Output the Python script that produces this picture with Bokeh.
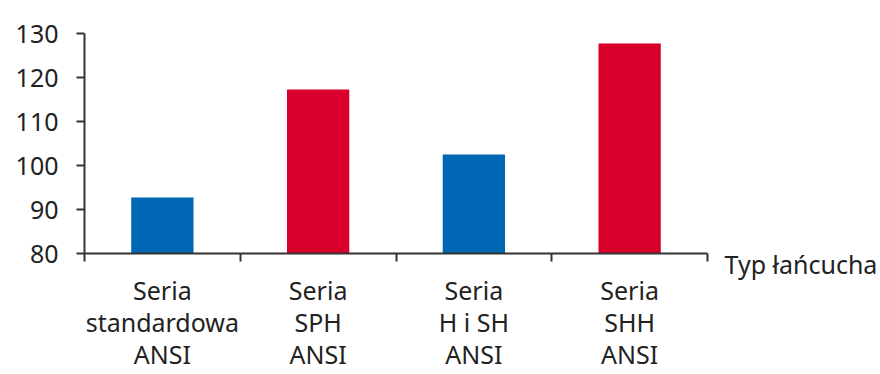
from bokeh.plotting import figure
from bokeh.models import FixedTicker, Range1d, LinearAxis
from bokeh.embed import file_html
from bokeh.resources import INLINE

categories = ["Seria\nstandardowa\nANSI", "Seria\nSPH\nANSI", "Seria\nH i SH\nANSI", "Seria\nSHH\nANSI"]
values = [92.7, 117.3, 102.5, 127.7]
colors = ["#0067B4", "#D9002B", "#0067B4", "#D9002B"]
y_ticks = [80, 90, 100, 110, 120, 130]
x_title = "Typ łańcucha"

FONT = "Noto Sans"
TXT = "#222222"
AX = "#333333"

centers = [i + 0.5 for i in range(len(categories))]

p = figure(width=880, height=374, output_backend="svg", toolbar_location=None,
           x_range=Range1d(0, len(categories)), y_range=Range1d(80, 130),
           min_border_left=84, min_border_right=173, min_border_top=33, min_border_bottom=100)
p.outline_line_color = None
p.grid.visible = False
p.background_fill_color = "white"
p.border_fill_color = "white"

p.vbar(x=centers, top=values, bottom=80, width=0.4, fill_color=colors, line_color=None)

xa = p.xaxis[0]
xa.ticker = FixedTicker(ticks=centers, minor_ticks=list(range(len(categories) + 1)))
xa.major_label_overrides = {c: lab for c, lab in zip(centers, categories)}
xa.major_tick_line_color = None
xa.major_tick_out = 0
xa.major_tick_in = 0
xa.minor_tick_line_color = AX
xa.minor_tick_out = 8
xa.minor_tick_in = 0
xa.axis_line_color = AX
xa.axis_line_width = 2
xa.minor_tick_line_width = 2
xa.major_label_text_font = FONT
xa.major_label_text_font_size = "25px"
xa.major_label_text_line_height = 0.95
xa.major_label_text_color = TXT
xa.major_label_standoff = 11

ya = p.yaxis[0]
ya.ticker = FixedTicker(ticks=y_ticks, minor_ticks=[])
ya.major_tick_out = 8
ya.major_tick_in = 0
ya.major_tick_line_color = AX
ya.major_tick_line_width = 2
ya.axis_line_color = AX
ya.axis_line_width = 2
ya.major_label_text_font = FONT
ya.major_label_text_font_size = "25px"
ya.major_label_text_color = TXT
ya.major_label_standoff = 18

# x-axis title placed at the right end of the x axis via a label-only right axis
ra = LinearAxis(ticker=FixedTicker(ticks=[80], minor_ticks=[]),
                major_label_overrides={80: " \n" + x_title})
ra.axis_line_color = None
ra.major_tick_line_color = None
ra.major_tick_out = 0
ra.major_tick_in = 0
ra.major_label_standoff = 17
ra.major_label_text_font = FONT
ra.major_label_text_font_size = "25px"
ra.major_label_text_line_height = 0.62
ra.major_label_text_color = TXT
p.add_layout(ra, "right")

open("out.html", "w").write(file_html(p, INLINE))
